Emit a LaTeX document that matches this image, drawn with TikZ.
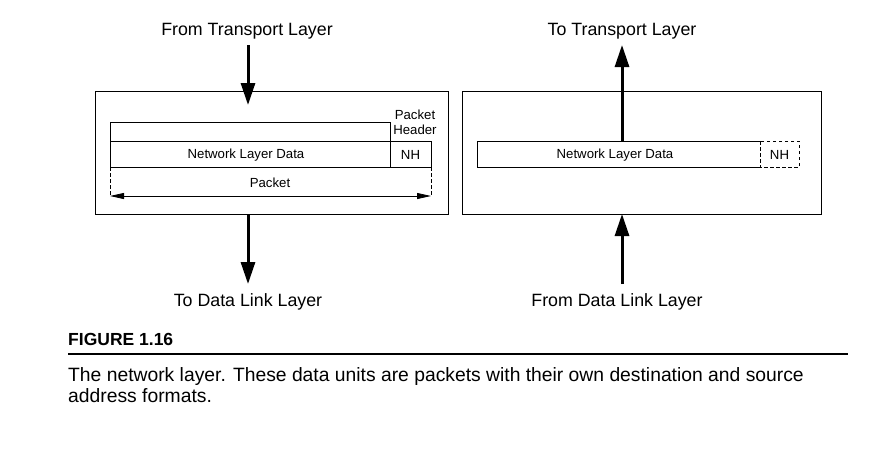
\documentclass[tikz,border=0pt]{standalone}
\usepackage{fontspec}
\setmainfont{Liberation Sans}
\newfontfamily\figfont{Liberation Sans}
\usetikzlibrary{arrows.meta}
\tikzset{
  box/.style={draw, line width=1pt},
  cell/.style={draw, line width=0.8pt},
  dcell/.style={draw, line width=0.8pt, dashed, dash pattern=on 3.5pt off 2.5pt},
  bigarrow/.style={line width=3pt, -{Triangle[width=14pt,length=22pt]}},
  lbl/.style={font=\figfont\fontsize{17.8}{20}\selectfont, inner sep=0pt},
  small/.style={font=\figfont\fontsize{13.2}{15}\selectfont, inner sep=0pt},
  captext/.style={font=\figfont\fontsize{19.3}{22}\selectfont, inner sep=0pt, anchor=base west}
}
\begin{document}
\begin{tikzpicture}[x=1pt,y=-1pt]
\useasboundingbox (0,0) rectangle (886,451);
% left box
\draw[box] (95,91) rectangle (448,214);
\draw[cell] (110,122) rectangle (390,141);
\draw[cell] (110,141) rectangle (390,167);
\draw[cell] (390,141) rectangle (431,167);
\node[small] (ldata) at (246,155) {Network Layer Data};
\node[small] (lnh) at (410.5,155) {NH};
\node[small, align=center] (phdr) at (415,122) {Packet\\Header};
\coordinate (pl) at (110,167);
\coordinate (pr) at (431,167);
\coordinate (pla) at (110,196);
\coordinate (pra) at (431,196);
\draw[dcell] (pl) -- (pla);
\draw[dcell] (pr) -- (pra);
\draw[line width=0.8pt, {Triangle[width=6pt,length=14pt]}-{Triangle[width=6pt,length=14pt]}] (pla) -- (pra);
\node[small] (pkt) at (270,182.5) {Packet};
% right box
\draw[box] (462,91) rectangle (821,214);
\draw[cell] (477,141) -- (760,141) (477,141) -- (477,167) -- (760,167);
\draw[dcell] (760,141) rectangle (799,167);
\node[small] (rdata) at (615,155) {Network Layer Data};
\node[small] (rnh) at (779.5,155) {NH};
% labels
\node[lbl] (ft) at (247,31.5) {From Transport Layer};
\node[lbl] (tt) at (622,31.5) {To Transport Layer};
\node[lbl] (td) at (248,302) {To Data Link Layer};
\node[lbl] (fd) at (617,302) {From Data Link Layer};
% arrows
\coordinate (a1s) at (248,45);
\coordinate (a1e) at (248,105);
\draw[bigarrow] (a1s) -- (a1e);
\coordinate (a2s) at (248,214);
\coordinate (a2e) at (248,284);
\draw[bigarrow] (a2s) -- (a2e);
\coordinate (a3s) at (622,141);
\coordinate (a3e) at (622,45);
\draw[bigarrow] (a3s) -- (a3e);
\coordinate (a4s) at (622,284);
\coordinate (a4e) at (622,214);
\draw[bigarrow] (a4s) -- (a4e);
% caption
\node[captext, font=\figfont\bfseries\fontsize{17.5}{20}\selectfont] (fig) at (68,345) {FIGURE 1.16};
\coordinate (rl) at (68,354);
\coordinate (rr) at (848,354);
\draw[line width=1.6pt] (rl) -- (rr);
\node[captext] (c1) at (68,381) {The network layer. These data units are packets with their own destination and source};
\node[captext] (c2) at (68,402.5) {address formats.};
\end{tikzpicture}
\end{document}
